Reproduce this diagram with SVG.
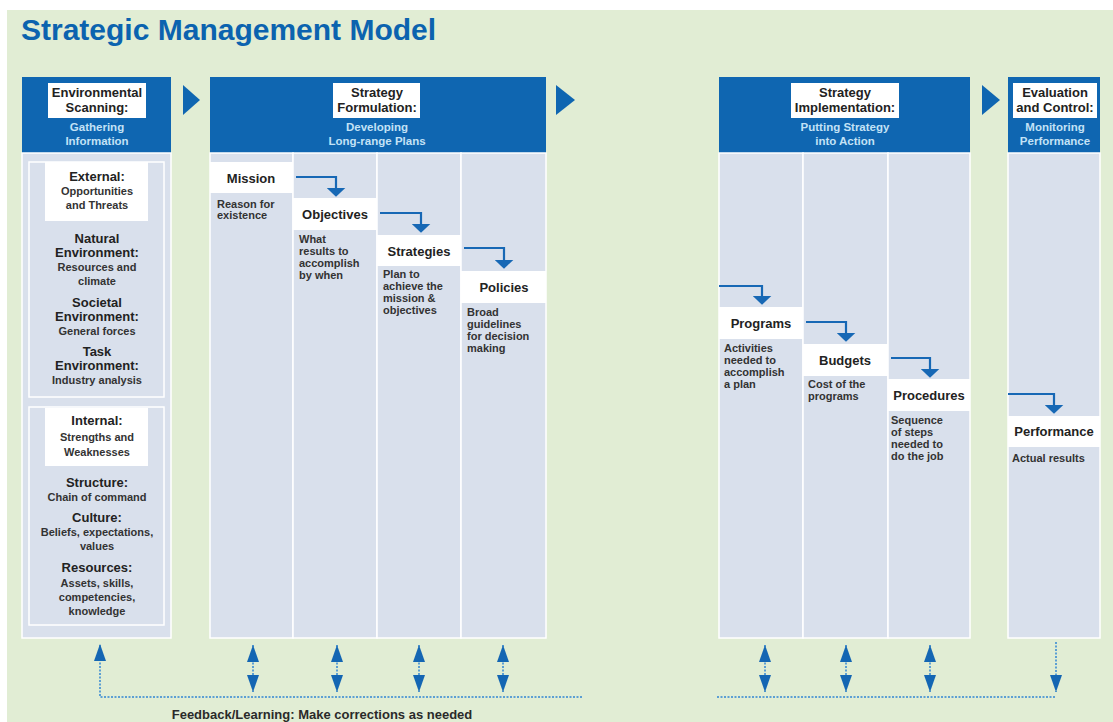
<svg xmlns="http://www.w3.org/2000/svg" width="1113" height="722" viewBox="0 0 1113 722">
<style>
text{font-family:"Liberation Sans",Arial,sans-serif;font-weight:bold}
.ttl{font-size:30px;fill:#0B63AF}
.hd{font-size:13px;fill:#222;text-anchor:middle}
.sub{font-size:11.5px;fill:#C3E2F6;text-anchor:middle}
.lbl{font-size:13px;fill:#222;text-anchor:middle}
.ds{font-size:11px;fill:#333}
.c1h{font-size:13px;fill:#222;text-anchor:middle}
.c1s{font-size:11px;fill:#333;text-anchor:middle}
.fbt{font-size:13px;fill:#2A2A2A;text-anchor:middle}
.head{fill:#0F66B1}
.body{fill:#D9E0EC;stroke:#FFFFFF;stroke-width:1.5}
.inner{fill:none;stroke:#FFFFFF;stroke-width:1.5}
.wb{fill:#FFFFFF}
.tri{fill:#0F66B1}
.con{fill:none;stroke:#1768B5;stroke-width:2.2}
.dot{fill:none;stroke:#5C9FD3;stroke-width:2;stroke-dasharray:2 1.5}
</style>
<defs>
<marker id="ah" viewBox="0 0 10 10" refX="8" refY="5" markerWidth="9" markerHeight="19" markerUnits="userSpaceOnUse" orient="auto" preserveAspectRatio="none">
<path d="M0,0 L10,5 L0,10 z" fill="#1768B5"/>
</marker>
<marker id="fb" viewBox="0 0 10 10" refX="10" refY="5" markerWidth="17" markerHeight="12" markerUnits="userSpaceOnUse" orient="auto-start-reverse" preserveAspectRatio="none">
<path d="M0,0 L10,5 L0,10 z" fill="#1466B3"/>
</marker>
</defs>
<rect x="0" y="0" width="1113" height="722" fill="#FFFFFF"/>
<rect x="7" y="10" width="1106" height="712" fill="#E1EDD4"/>
<text class="ttl" x="21" y="40">Strategic Management Model</text>

<g id="env-scanning">
<rect class="head" x="22" y="77" width="149" height="76"/>
<rect class="wb" x="48" y="83" width="98" height="35"/>
<text class="hd" x="97" y="97">Environmental</text>
<text class="hd" x="97" y="112">Scanning:</text>
<text class="sub" x="97" y="131">Gathering</text>
<text class="sub" x="97" y="145">Information</text>
<rect class="body" x="22" y="153" width="149" height="485"/>
<rect class="inner" x="29" y="162" width="135" height="235"/>
<rect class="inner" x="29" y="407" width="135" height="218"/>
<rect class="wb" x="45" y="162" width="103" height="59"/>
<rect class="wb" x="45" y="408" width="103" height="58"/>
<text class="c1h" x="97" y="181">External:</text>
<text class="c1s" x="97" y="195">Opportunities</text>
<text class="c1s" x="97" y="209">and Threats</text>
<text class="c1h" x="97" y="243">Natural</text>
<text class="c1h" x="97" y="257">Environment:</text>
<text class="c1s" x="97" y="271">Resources and</text>
<text class="c1s" x="97" y="285">climate</text>
<text class="c1h" x="97" y="307">Societal</text>
<text class="c1h" x="97" y="321">Environment:</text>
<text class="c1s" x="97" y="335">General forces</text>
<text class="c1h" x="97" y="356">Task</text>
<text class="c1h" x="97" y="370">Environment:</text>
<text class="c1s" x="97" y="384">Industry analysis</text>
<text class="c1h" x="97" y="425">Internal:</text>
<text class="c1s" x="97" y="441">Strengths and</text>
<text class="c1s" x="97" y="456">Weaknesses</text>
<text class="c1h" x="97" y="487">Structure:</text>
<text class="c1s" x="97" y="501">Chain of command</text>
<text class="c1h" x="97" y="522">Culture:</text>
<text class="c1s" x="97" y="536">Beliefs, expectations,</text>
<text class="c1s" x="97" y="550">values</text>
<text class="c1h" x="97" y="572">Resources:</text>
<text class="c1s" x="97" y="587">Assets, skills,</text>
<text class="c1s" x="97" y="601">competencies,</text>
<text class="c1s" x="97" y="615">knowledge</text>
</g>

<g id="arrow-1"><polygon class="tri" points="183,85 200,100 183,115"/></g>

<g id="strategy-formulation">
<rect class="head" x="210" y="77" width="336" height="76"/>
<rect class="wb" x="333" y="83" width="87" height="35"/>
<text class="hd" x="377" y="97">Strategy</text>
<text class="hd" x="377" y="112">Formulation:</text>
<text class="sub" x="377" y="131">Developing</text>
<text class="sub" x="377" y="145">Long-range Plans</text>
<rect class="body" x="210" y="153" width="83" height="485"/>
<rect class="body" x="293" y="153" width="84" height="485"/>
<rect class="body" x="377" y="153" width="84" height="485"/>
<rect class="body" x="461" y="153" width="85" height="485"/>
</g>

<g id="mission">
<rect class="wb" x="210" y="162" width="83" height="31"/>
<text class="lbl" x="251" y="183">Mission</text>
<text class="ds" x="217" y="208">Reason for</text>
<text class="ds" x="217" y="219">existence</text>
</g>
<g id="objectives">
<rect class="wb" x="293" y="198" width="84" height="32"/>
<text class="lbl" x="335" y="219">Objectives</text>
<text class="ds" x="299" y="243">What</text>
<text class="ds" x="299" y="255">results to</text>
<text class="ds" x="299" y="267">accomplish</text>
<text class="ds" x="299" y="279">by when</text>
</g>
<g id="strategies">
<rect class="wb" x="377" y="235" width="84" height="31"/>
<text class="lbl" x="419" y="256">Strategies</text>
<text class="ds" x="383" y="278">Plan to</text>
<text class="ds" x="383" y="290">achieve the</text>
<text class="ds" x="383" y="302">mission &amp;</text>
<text class="ds" x="383" y="314">objectives</text>
</g>
<g id="policies">
<rect class="wb" x="461" y="271" width="85" height="32"/>
<text class="lbl" x="504" y="292">Policies</text>
<text class="ds" x="467" y="316">Broad</text>
<text class="ds" x="467" y="328">guidelines</text>
<text class="ds" x="467" y="340">for decision</text>
<text class="ds" x="467" y="352">making</text>
</g>

<g id="arrow-2"><polygon class="tri" points="556,85 575,100 556,115"/></g>

<g id="strategy-implementation">
<rect class="head" x="719" y="77" width="251" height="76"/>
<rect class="wb" x="791" y="83" width="108" height="35"/>
<text class="hd" x="845" y="97">Strategy</text>
<text class="hd" x="845" y="112">Implementation:</text>
<text class="sub" x="845" y="131">Putting Strategy</text>
<text class="sub" x="845" y="145">into Action</text>
<rect class="body" x="719" y="153" width="84" height="485"/>
<rect class="body" x="803" y="153" width="85" height="485"/>
<rect class="body" x="888" y="153" width="82" height="485"/>
</g>

<g id="programs">
<rect class="wb" x="719" y="307" width="84" height="32"/>
<text class="lbl" x="761" y="328">Programs</text>
<text class="ds" x="724" y="352">Activities</text>
<text class="ds" x="724" y="364">needed to</text>
<text class="ds" x="724" y="376">accomplish</text>
<text class="ds" x="724" y="388">a plan</text>
</g>
<g id="budgets">
<rect class="wb" x="803" y="344" width="85" height="32"/>
<text class="lbl" x="845" y="365">Budgets</text>
<text class="ds" x="808" y="388">Cost of the</text>
<text class="ds" x="808" y="400">programs</text>
</g>
<g id="procedures">
<rect class="wb" x="888" y="379" width="82" height="32"/>
<text class="lbl" x="929" y="400">Procedures</text>
<text class="ds" x="891" y="424">Sequence</text>
<text class="ds" x="891" y="436">of steps</text>
<text class="ds" x="891" y="448">needed to</text>
<text class="ds" x="891" y="460">do the job</text>
</g>

<g id="arrow-3"><polygon class="tri" points="982,85 1000,100 982,115"/></g>

<g id="evaluation-control">
<rect class="head" x="1008" y="77" width="92" height="76"/>
<rect class="wb" x="1013" y="83" width="84" height="35"/>
<text class="hd" x="1055" y="97">Evaluation</text>
<text class="hd" x="1055" y="112">and Control:</text>
<text class="sub" x="1055" y="131">Monitoring</text>
<text class="sub" x="1055" y="145">Performance</text>
<rect class="body" x="1008" y="153" width="92" height="485"/>
</g>
<g id="performance">
<rect class="wb" x="1008" y="416" width="92" height="31"/>
<text class="lbl" x="1054" y="436">Performance</text>
<text class="ds" x="1012" y="462">Actual results</text>
</g>

<g id="connectors">
<path class="con" d="M296,177 H336 V195" marker-end="url(#ah)"/>
<path class="con" d="M380,213 H421 V231" marker-end="url(#ah)"/>
<path class="con" d="M464,248 H504 V267" marker-end="url(#ah)"/>
<path class="con" d="M719,286 H762 V303" marker-end="url(#ah)"/>
<path class="con" d="M806,322 H846 V340" marker-end="url(#ah)"/>
<path class="con" d="M891,358 H930 V376" marker-end="url(#ah)"/>
<path class="con" d="M1008,394 H1054 V412" marker-end="url(#ah)"/>
<path class="dot" d="M582,697 H100 V644" marker-end="url(#fb)"/>
<path class="dot" d="M253,645 V692" marker-start="url(#fb)" marker-end="url(#fb)"/>
<path class="dot" d="M337,645 V692" marker-start="url(#fb)" marker-end="url(#fb)"/>
<path class="dot" d="M419,645 V692" marker-start="url(#fb)" marker-end="url(#fb)"/>
<path class="dot" d="M503,645 V692" marker-start="url(#fb)" marker-end="url(#fb)"/>
<path class="dot" d="M765,645 V692" marker-start="url(#fb)" marker-end="url(#fb)"/>
<path class="dot" d="M846,645 V692" marker-start="url(#fb)" marker-end="url(#fb)"/>
<path class="dot" d="M930,645 V692" marker-start="url(#fb)" marker-end="url(#fb)"/>
<path class="dot" d="M717,697 H1056"/>
<path class="dot" d="M1056,642 V692" marker-end="url(#fb)"/>
</g>
<text class="fbt" x="322" y="719">Feedback/Learning: Make corrections as needed</text>
</svg>
